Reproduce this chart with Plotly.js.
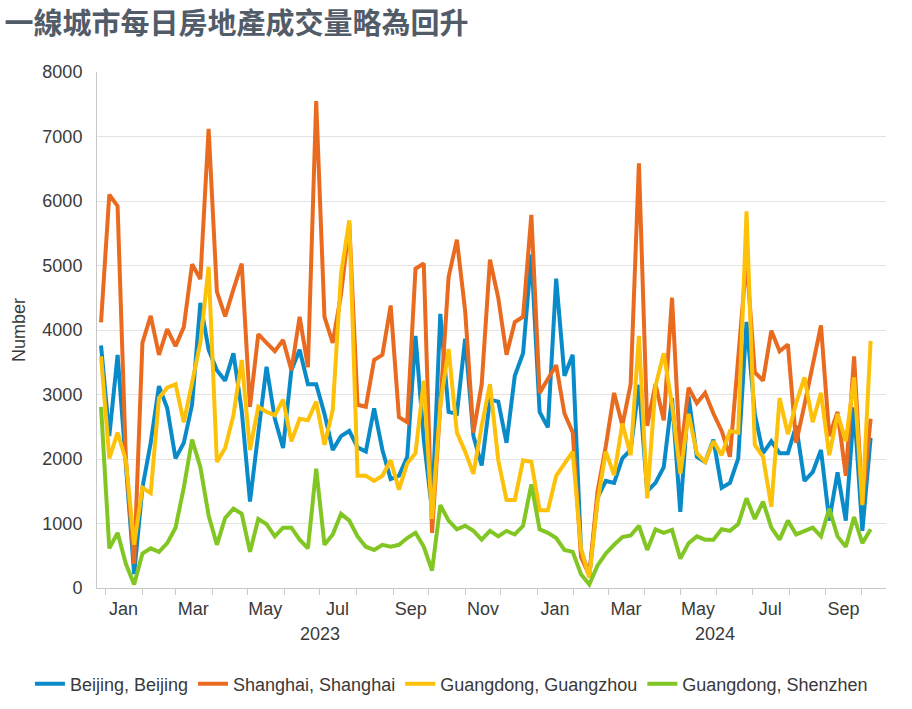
<!DOCTYPE html>
<html>
<head>
<meta charset="utf-8">
<script src="https://cdn.plot.ly/plotly-3.0.1.min.js"></script>
<style>html,body{margin:0;padding:0;background:#fff;}#chart{width:912px;height:709px;}</style>
</head>
<body>
<div id="chart"></div>
<script>
const dates = [
 '2022-12-28','2023-01-04','2023-01-11','2023-01-18','2023-01-25','2023-02-01','2023-02-08','2023-02-15','2023-02-22',
 '2023-03-01','2023-03-08','2023-03-15','2023-03-22','2023-03-29','2023-04-05','2023-04-12','2023-04-19','2023-04-26',
 '2023-05-03','2023-05-10','2023-05-17','2023-05-24','2023-05-31','2023-06-07','2023-06-14','2023-06-21','2023-06-28',
 '2023-07-05','2023-07-12','2023-07-19','2023-07-26','2023-08-02','2023-08-09','2023-08-16','2023-08-23','2023-08-30',
 '2023-09-06','2023-09-13','2023-09-20','2023-09-27','2023-10-04','2023-10-11','2023-10-18','2023-10-25','2023-11-01',
 '2023-11-08','2023-11-15','2023-11-22','2023-11-29','2023-12-06','2023-12-13','2023-12-20','2023-12-27','2024-01-03',
 '2024-01-10','2024-01-17','2024-01-24','2024-01-31','2024-02-07','2024-02-14','2024-02-21','2024-02-28','2024-03-06',
 '2024-03-13','2024-03-20','2024-03-27','2024-04-03','2024-04-10','2024-04-17','2024-04-24','2024-05-01','2024-05-08',
 '2024-05-15','2024-05-22','2024-05-29','2024-06-05','2024-06-12','2024-06-19','2024-06-26','2024-07-03','2024-07-10',
 '2024-07-17','2024-07-24','2024-07-31','2024-08-07','2024-08-14','2024-08-21','2024-08-28','2024-09-04','2024-09-11',
 '2024-09-18','2024-09-25','2024-10-02','2024-10-09'
];

const beijing = [
 3760,2355,3615,1950,215,1555,2250,3130,2785,2010,2250,2840,4420,3695,3375,3215,3640,2750,1340,2400,
 3430,2625,2170,3375,3695,3160,3160,2700,2140,2355,2435,2180,2115,2785,2140,1690,1740,2035,3910,2300,
 1200,4250,2730,2700,3865,2355,1900,2920,2890,2250,3290,3640,5170,2730,2490,4795,3290,3615,590,190,
 1400,1660,1630,2010,2140,3150,1500,1630,1875,2945,1180,2970,2035,1955,2300,1555,1630,2010,4125,2700,
 2090,2275,2090,2090,2515,1660,1795,2140,1045,1795,1045,2800,885,2330
];
const shanghai = [
 4120,6100,5920,2000,375,3800,4220,3615,4015,3750,4045,5020,4790,7120,4595,4210,4630,5030,2810,3935,
 3800,3670,3845,3375,4205,3425,7550,4205,3800,4550,5650,2840,2810,3535,3615,4380,2650,2570,4950,5030,
 855,2800,4820,5400,4300,2410,3160,5090,4500,3615,4125,4205,5785,3025,3240,3455,2705,2410,480,200,
 1500,2200,3025,2520,3160,6585,2515,3160,2600,4500,2035,3105,2865,3025,2705,2435,2035,3500,5100,3345,
 3215,3990,3670,3775,2250,2840,3430,4070,2355,2730,1740,3590,1300,2625
];
const guangzhou = [
 3590,2010,2410,1980,670,1555,1470,2945,3105,3160,2570,3215,3800,4980,1955,2170,2680,3535,2140,2810,
 2730,2680,2920,2275,2625,2600,2890,2220,2760,4870,5700,1740,1740,1660,1740,1980,1525,1930,2090,3215,
 1070,2840,3705,2410,2115,1770,2515,3160,1980,1365,1365,1980,1955,1205,1205,1740,1930,2115,615,160,
 1340,2115,1750,2550,2060,3910,1390,3130,3640,2840,1770,2700,2090,1955,2275,2060,2435,2410,5840,2220,
 2035,1260,2945,2385,2865,3265,2570,3025,2060,2700,2275,3265,1285,3830
];
const shenzhen = [
 2810,615,855,375,55,535,615,560,695,935,1555,2300,1875,1125,670,1085,1230,1150,560,1070,
 990,800,935,935,750,615,1850,670,830,1150,1045,800,640,590,670,640,670,775,855,640,
 270,1285,1045,910,965,885,750,885,800,885,830,965,1605,910,855,775,590,560,215,55,
 350,535,670,790,815,965,590,910,855,900,455,695,800,750,750,910,885,990,1390,1070,
 1340,935,750,1045,830,885,935,800,1230,800,640,1100,695,910
];

const seriesNames = ['Beijing, Beijing','Shanghai, Shanghai','Guangdong, Guangzhou','Guangdong, Shenzhen'];
const seriesColors = ['#0a8bc9','#e96b1f','#fec10a','#82c623'];
const seriesData = [beijing, shanghai, guangzhou, shenzhen];

const monthLabelDates = ['2023-01-16','2023-03-16','2023-05-16','2023-07-16','2023-09-16','2023-11-16',
                         '2024-01-16','2024-03-16','2024-05-16','2024-07-16','2024-09-16'];
const monthLabels = ['Jan','Mar','May','Jul','Sep','Nov','Jan','Mar','May','Jul','Sep'];
const monthStarts = ['2023-01-01','2023-02-01','2023-03-01','2023-04-01','2023-05-01','2023-06-01','2023-07-01',
  '2023-08-01','2023-09-01','2023-10-01','2023-11-01','2023-12-01','2024-01-01','2024-02-01','2024-03-01',
  '2024-04-01','2024-05-01','2024-06-01','2024-07-01','2024-08-01','2024-09-01','2024-10-01'];
const yearLabels = ['2023','2024'];
const yearLabelDates = ['2023-07-01','2024-05-30'];

const traces = seriesData.map((ys, k) => ({
  x: dates, y: ys, type: 'scatter', mode: 'lines', name: seriesNames[k],
  line: {color: seriesColors[k], width: 4}, hoverinfo: 'skip'
}));

const txt = '#3a3a3a';
const layout = {
  width: 912, height: 709,
  margin: {l: 97, r: 26, t: 72, b: 121, autoexpand: false},
  paper_bgcolor: '#ffffff', plot_bgcolor: '#ffffff',
  font: {family: 'Liberation Sans, Arial, sans-serif', size: 18, color: txt},
  title: {
    text: '<b>一線城市每日房地產成交量略為回升</b>',
    font: {family: 'Noto Sans CJK TC, sans-serif', size: 29, color: '#525c69'},
    x: 0.005, xanchor: 'left', xref: 'container',
    y: 1 - 24/709, yanchor: 'middle', yref: 'container'
  },
  xaxis: {
    type: 'date', range: ['2022-12-24 14:00', '2024-10-22'],
    tickmode: 'array', tickvals: monthLabelDates, ticktext: monthLabels,
    ticks: '', showgrid: false, zeroline: false, ticklabelstandoff: 4,
    showline: true, linecolor: '#c8c8c8', linewidth: 1,
    tickfont: {size: 18, color: txt},
    minor: {tickmode: 'array', tickvals: monthStarts, ticks: 'outside', ticklen: 6,
            tickcolor: '#c8c8c8', tickwidth: 1, showgrid: false}
  },
  yaxis: {
    range: [0, 8000], tickmode: 'linear', tick0: 0, dtick: 1000,
    gridcolor: '#e3e3e3', gridwidth: 1, zeroline: false,
    showline: true, linecolor: '#c8c8c8', linewidth: 1,
    ticks: 'outside', ticklen: 10, tickcolor: 'rgba(0,0,0,0)',
    tickfont: {size: 18, color: txt},
    title: {text: 'Number', font: {size: 18, color: txt}, standoff: 12}
  },
  legend: {
    orientation: 'h', x: -0.085, xanchor: 'left', y: -0.186, yanchor: 'middle',
    font: {size: 18, color: txt}, traceorder: 'normal', itemwidth: 30
  },
  annotations: yearLabels.map((t, i) => ({
    x: yearLabelDates[i], xref: 'x', y: -0.089, yref: 'paper', yanchor: 'middle',
    text: t, showarrow: false, font: {size: 18, color: txt}
  })),
  showlegend: true
};

Plotly.newPlot('chart', traces, layout, {displayModeBar: false, staticPlot: true});
</script>
</body>
</html>
